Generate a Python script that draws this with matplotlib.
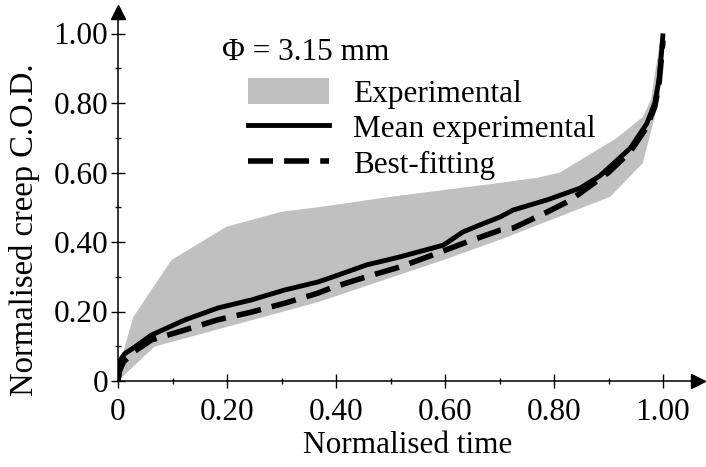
import numpy as np
import matplotlib.pyplot as plt
from matplotlib.patches import Patch
from matplotlib.lines import Line2D
from matplotlib.ticker import MultipleLocator, FuncFormatter

# envelope of the experimental curves (upper and lower edge)
upper_t = [0.0, 0.028, 0.098, 0.199, 0.30, 0.367, 0.50, 0.60, 0.70, 0.77, 0.811,
           0.916, 0.963, 0.978, 0.991, 0.998]
upper_cod = [0.03, 0.184, 0.348, 0.444, 0.487, 0.50, 0.53, 0.55, 0.57, 0.585, 0.60,
             0.70, 0.76, 0.81, 0.944, 1.0]
lower_t = [0.0, 0.067, 0.367, 0.597, 0.70, 0.903, 0.963, 0.994, 1.0]
lower_cod = [0.0, 0.099, 0.227, 0.348, 0.406, 0.53, 0.627, 0.817, 1.0]

# mean experimental curve
mean_t = [0.0, 0.001, 0.004, 0.012, 0.031, 0.061, 0.123, 0.183, 0.244, 0.306, 0.367,
          0.395, 0.456, 0.517, 0.597, 0.633, 0.664, 0.701, 0.725, 0.787, 0.848,
          0.884, 0.94, 0.97, 0.985, 0.993, 0.997, 1.0]
mean_cod = [0.0, 0.035, 0.06, 0.078, 0.098, 0.132, 0.176, 0.21, 0.233, 0.262, 0.285,
            0.30, 0.334, 0.357, 0.391, 0.429, 0.449, 0.472, 0.492, 0.521, 0.555,
            0.59, 0.67, 0.74, 0.80, 0.87, 0.94, 1.0]

# best-fitting curve
fit_t = [0.0, 0.003, 0.01, 0.03, 0.061, 0.123, 0.183, 0.244, 0.306, 0.367, 0.395,
         0.456, 0.517, 0.578, 0.640, 0.701, 0.725, 0.787, 0.83, 0.90, 0.94, 0.97,
         0.985, 0.993, 1.0]
fit_cod = [0.0, 0.03, 0.055, 0.085, 0.118, 0.147, 0.176, 0.198, 0.224, 0.253, 0.27,
           0.30, 0.328, 0.363, 0.40, 0.434, 0.44, 0.486, 0.52, 0.60, 0.66, 0.73,
           0.79, 0.86, 0.98]

plt.rcParams['font.family'] = ['Liberation Serif', 'DejaVu Serif']
fs = 22.5

fig = plt.figure(figsize=(7.06, 4.67), dpi=100)
ax = fig.add_axes([118 / 706, (467 - 381) / 467, (698 - 118) / 706, (381 - 12) / 467])

# grey band
ax.fill(np.concatenate([upper_t, lower_t[::-1]]),
        np.concatenate([upper_cod, lower_cod[::-1]]),
        color='#c0c0c0', lw=0, zorder=1)
ax.plot(mean_t, mean_cod, color='black', lw=3.5, solid_capstyle='butt', zorder=3)
ax.plot(fit_t, fit_cod, color='black', lw=4.0, dashes=(4.5, 2), zorder=2)

ax.set_xlim(0, (698 - 118) / 545)
ax.set_ylim(0, (381 - 12) / 347.5)

for s in ['top', 'right']:
    ax.spines[s].set_visible(False)
for s in ['left', 'bottom']:
    ax.spines[s].set_linewidth(1.1)

# arrow heads on the axes
ax.plot(1, 0, '>k', ms=10, transform=ax.transAxes, clip_on=False)
ax.plot(0, 1, '^k', ms=10, transform=ax.transAxes, clip_on=False)

ax.xaxis.set_minor_locator(MultipleLocator(0.1))
ax.yaxis.set_minor_locator(MultipleLocator(0.1))
ax.set_xticks([0, 0.2, 0.4, 0.6, 0.8, 1.0])
ax.set_yticks([0, 0.2, 0.4, 0.6, 0.8, 1.0])
fmt = FuncFormatter(lambda v, p: '0' if v == 0 else '%.2f' % v)
ax.xaxis.set_major_formatter(fmt)
ax.yaxis.set_major_formatter(fmt)
ax.tick_params(which='major', direction='inout', length=10, width=1, labelsize=fs, pad=2)
ax.tick_params(axis='x', which='major', pad=7)
ax.tick_params(which='minor', direction='inout', length=4, width=1)

ax.set_xlabel('Normalised time', fontsize=fs, labelpad=3)
ax.set_ylabel('Normalised creep C.O.D.', fontsize=fs + 1)
ax.yaxis.set_label_coords(-0.135, 0.41)

ax.text((222 - 118) / 580, (381 - 52) / 369, 'Φ = 3.15 mm', fontsize=fs,
        transform=ax.transAxes, va='center', ha='left')

handles = [Patch(facecolor='#c0c0c0', edgecolor='none'),
           Line2D([], [], color='black', lw=3.5),
           Line2D([], [], color='black', lw=4.0, dashes=(4.5, 2))]
labels = ['Experimental', 'Mean experimental', 'Best-fitting']
ax.legend(handles, labels, loc='upper left', bbox_to_anchor=((248 - 118) / 580, (381 - 78) / 369),
          frameon=False, fontsize=fs, borderpad=0, borderaxespad=0,
          handlelength=2.6, handleheight=0.9, handletextpad=0.75, labelspacing=0.15)

fig.savefig('out.png', dpi=100)
